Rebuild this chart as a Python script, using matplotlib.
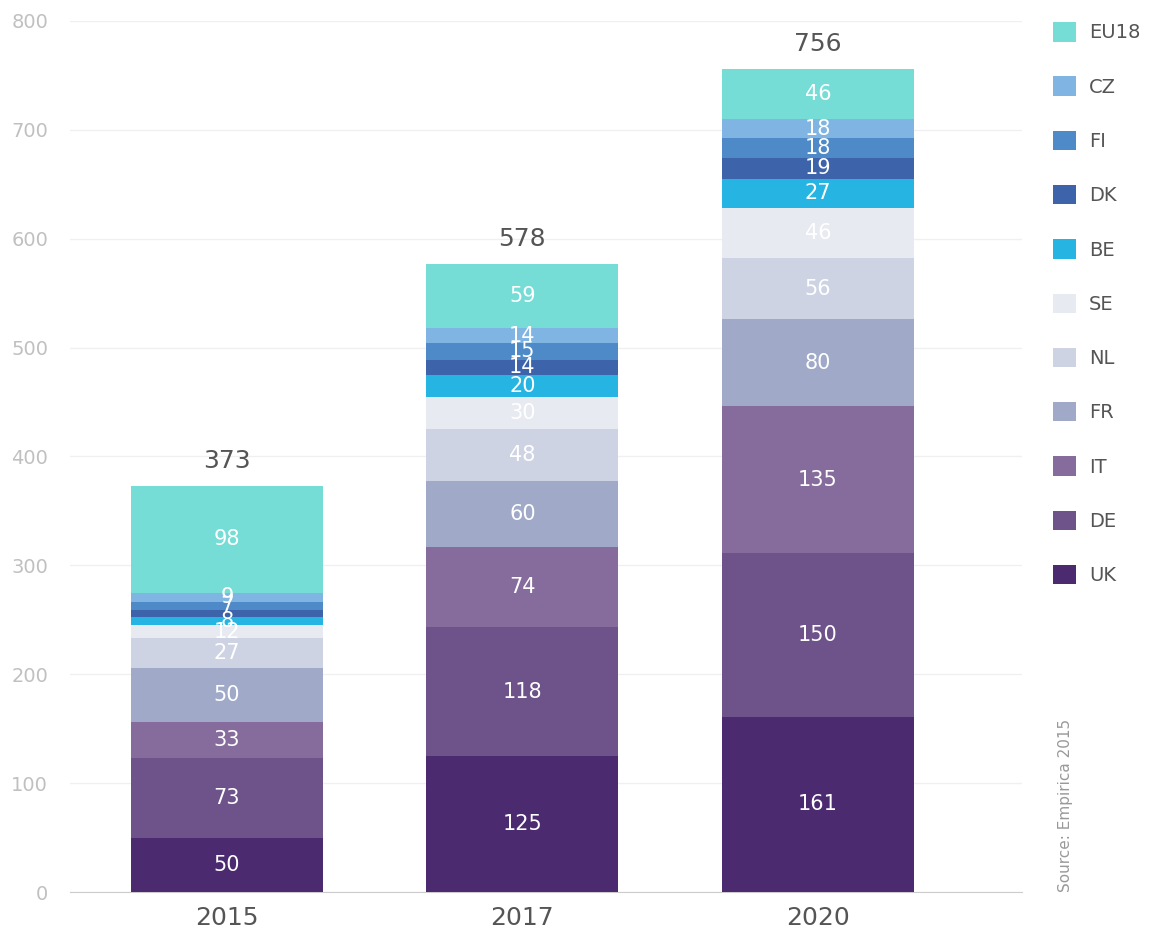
import matplotlib.pyplot as plt
import numpy as np
from matplotlib.patches import Patch

years = ['2015', '2017', '2020']
countries = ['UK', 'DE', 'IT', 'FR', 'NL', 'SE', 'BE', 'DK', 'FI', 'CZ', 'EU18']
colors = ['#4b2a6f', '#6e528a', '#866c9c', '#a0aac8', '#ced3e3', '#e8eaf2',
          '#26b5e2', '#3d64ab', '#4f8ac8', '#80b5e3', '#76ddd6']

uk = [50, 125, 161]
de = [73, 118, 150]
it = [33, 74, 135]
fr = [50, 60, 80]
nl = [27, 48, 56]
se = [12, 30, 46]
be = [8, 20, 27]
dk = [6, 14, 19]
fi = [7, 15, 18]
cz = [9, 14, 18]
eu18 = [98, 59, 46]
totals = [373, 578, 756]

series = [uk, de, it, fr, nl, se, be, dk, fi, cz, eu18]

fig = plt.figure(figsize=(11.52, 9.46), dpi=100)
ax = fig.add_axes([0.061, 0.057, 0.826, 0.921])

x = np.arange(len(years))
bottom = np.zeros(len(years))
for name, vals, col in zip(countries, series, colors):
    vals = np.array(vals, dtype=float)
    ax.bar(x, vals, 0.65, bottom=bottom, color=col, zorder=3)
    for i, v in enumerate(vals):
        # the 2015 DK label is hidden in the original
        if name == 'DK' and i == 0:
            continue
        ax.text(x[i], bottom[i] + v / 2, f'{int(v)}', ha='center', va='center',
                color='white', fontsize=15, zorder=4)
    bottom += vals

for i, t in enumerate(totals):
    ax.text(x[i], bottom[i] + 12, str(t), ha='center', va='bottom',
            color='#555555', fontsize=18)

ax.set_ylim(0, 800)
ax.set_xlim(-0.53, 2.69)
ax.set_yticks(range(0, 801, 100))
ax.set_xticks(x)
ax.set_xticklabels(years, fontsize=18, color='#555555')
ax.tick_params(axis='y', colors='#c0c0c0', labelsize=14, length=0, pad=16)
ax.tick_params(axis='x', length=0, pad=10)
ax.grid(axis='y', color='#f0f0f0', linewidth=1, zorder=0)
for s in ['top', 'right', 'left']:
    ax.spines[s].set_visible(False)
ax.spines['bottom'].set_color('#cccccc')

handles = [Patch(facecolor=c, label=n) for n, c in zip(countries, colors)]
handles = handles[::-1]
fig.legend(handles=handles, loc='upper left', bbox_to_anchor=(0.899, 0.995),
           frameon=False, fontsize=14, labelcolor='#555555',
           handlelength=1.15, handleheight=1.15, handletextpad=0.7,
           labelspacing=1.75)

fig.text(0.925, 0.057, 'Source: Empirica 2015', rotation=90, ha='center',
         va='bottom', color='#999999', fontsize=11)

fig.savefig('out.png', dpi=100)
